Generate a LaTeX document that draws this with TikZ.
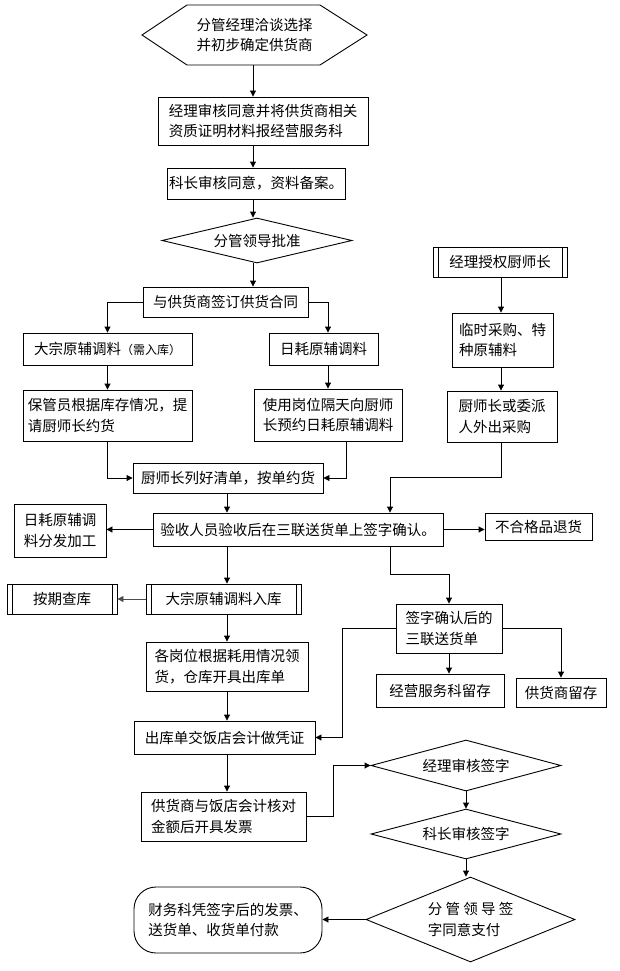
\documentclass[tikz,border=0pt]{standalone}
\usepackage{fontspec}
\setmainfont{Noto Sans CJK SC}
\usetikzlibrary{shapes.geometric,arrows.meta}

\begin{document}
\begin{tikzpicture}[x=1pt,y=-1pt,line width=0.9pt,
    >={Triangle[length=6pt,width=6pt]},
    every node/.style={font=\fontsize{14.5}{20.5}\selectfont, align=left, inner sep=2pt},
    dims/.style 2 args={minimum width=#1pt, minimum height=#2pt},
    box/.style={draw, rectangle},
    procbox/.style={box, path picture={
        \draw ([xshift=5pt]path picture bounding box.north west) -- ([xshift=5pt]path picture bounding box.south west)
              ([xshift=-5pt]path picture bounding box.north east) -- ([xshift=-5pt]path picture bounding box.south east);}},
    decision/.style={draw, diamond, aspect=3, inner sep=0pt}]
    \useasboundingbox (0,0) rectangle (619,971);
    \coordinate (spine) at (253,0);
    \coordinate (mid) at (227,0);
    \coordinate (right) at (501,0);
    % start
    \draw (142,35) -- (187,5) -- (320,5) -- (367,35) -- (320,65) -- (187,65) -- cycle;
    \node[dims={200}{60}] (start) at (254.5,35) {分管经理洽谈选择\\并初步确定供货商};
    \node[box, dims={210}{48}] (box2) at (263,121) {经理审核同意并将供货商相关\\资质证明材料报经营服务科};
    \node[box, dims={178}{31}] (box3) at (256,183.5) {科长审核同意，资料备案。};
    \node[decision, dims={190}{45}] (d4) at (257,240.5) {分管领导批准};
    \node[box, dims={165}{30}] (box5) at (225.5,302) {与供货商签订供货合同};
    \node[box, dims={169}{32}] (box6) at (107.5,349) {大宗原辅调料{\fontsize{12}{14}\selectfont（需入库）}};
    \node[box, dims={109}{32}] (box7) at (323.5,349) {日耗原辅调料};
    \node[box, dims={169}{51}] (box8) at (107.5,415.5) {保管员根据库存情况，提\\请厨师长约货};
    \node[box, dims={148}{52}] (box9) at (328,415) {使用岗位隔天向厨师\\长预约日耗原辅调料};
    % right column
    \node[procbox, dims={134}{30}] (box10) at (500,262) {经理授权厨师长};
    \node[box, dims={101}{54}] (box11) at (502.5,340) {临时采购、特\\种原辅料};
    \node[box, dims={110}{51}] (box12) at (502,416.5) {厨师长或委派\\人外出采购};
    % acceptance
    \node[box, dims={190}{30}] (box13) at (228,478) {厨师长列好清单，按单约货};
    \node[box, dims={290}{33}] (box14) at (298,529.5) {验收人员验收后在三联送货单上签字确认。};
    \node[box, dims={92}{53}] (box15) at (60,530.5) {日耗原辅调\\料分发加工};
    \node[box, dims={107}{27}] (box16) at (538.5,526.5) {不合格品退货};
    \node[procbox, dims={155}{30}] (box17) at (223.5,599) {大宗原辅调料入库};
    \node[procbox, dims={110}{30}] (box18) at (62,599) {按期查库};
    \node[box, dims={106}{49}] (box19) at (449,628.5) {签字确认后的\\三联送货单};
    \node[box, dims={128}{33}] (box20) at (440,690.5) {经营服务科留存};
    \node[box, dims={90}{29}] (box21) at (561,692.5) {供货商留存};
    \node[box, dims={162}{49}] (box22) at (227,666.5) {各岗位根据耗用情况领\\货，仓库开具出库单};
    \node[box, dims={181}{33}] (box23) at (224.5,737.5) {出库单交饭店会计做凭证};
    \node[box, dims={165}{49}] (box24) at (223.5,816.5) {供货商与饭店会计核对\\金额后开具发票};
    % payment
    \node[decision, dims={190}{51}] (d25) at (466,765.5) {经理审核签字};
    \node[decision, dims={190}{50}] (d26) at (466,834) {科长审核签字};
    \node[decision, dims={209}{85}] (d27) at (470.5,919.5) {分 管 领 导 签\\字同意支付};
    \node[box, rounded corners=22pt, dims={188}{66}] (pay) at (228,920) {财务科凭签字后的发票、\\送货单、收货单付款};
    % connectors
    \draw[->] (spine |- start.south) -- (spine |- box2.north);
    \draw[->] (spine |- box2.south) -- (spine |- box3.north);
    \draw[->] (spine |- box3.south) -- (spine |- d4.north);
    \draw[->] (spine |- d4.south) -- (spine |- box5.north);
    \draw[->] (box5.west) -| (box6.north);
    \draw[->] (box5.east) -| (box9 |- box7.north);
    \draw[->] (box6) -- (box8);
    \draw[->] (box9 |- box7.south) -- (box9);
    \draw[->] (right |- box10.south) -- (right |- box11.north);
    \draw[->] (right |- box11.south) -- (right |- box12.north);
    \draw[->] (box8) |- (box13);
    \draw[->] ([xshift=18pt]box9.south) |- (box13);
    \coordinate (j1) at (390,477);
    \coordinate (j2) at (390,574);
    \draw[->] (right |- box12.south) |- (j1) -- (j1 |- box14.north);
    \draw[->] (mid |- box13.south) -- (mid |- box14.north);
    \draw[->] (box14.west) -- (box14.west -| box15.east);
    \draw[->] (box14.east) -- (box14.east -| box16.west);
    \draw[->] (mid |- box14.south) -- (mid |- box17.north);
    \draw[->,black!70] (box17.west) -- (box18.east);
    \draw[->] (j1 |- box14.south) -- (j2) -| (box19.north);
    \draw[->] (box19.south) -- (box19.south |- box20.north);
    \draw[->] (box19.east) -| (box21.north);
    \draw[->] (box19.west) -| ([xshift=27pt]box23.east) -- (box23.east);
    \draw[->] (mid |- box17.south) -- (mid |- box22.north);
    \draw[->] (mid |- box22.south) -- (mid |- box23.north);
    \draw[->] (mid |- box23.south) -- (mid |- box24.north);
    \draw[->] (box24.east) -- ++(27,0) |- (d25.west);
    \draw[->] (d25.south) -- (d25.south |- d26.north);
    \draw[->] (d25.south |- d26.south) -- (d25.south |- d27.north);
    \draw[->] (d27.west) -- (d27.west -| pay.east);
\end{tikzpicture}
\end{document}
